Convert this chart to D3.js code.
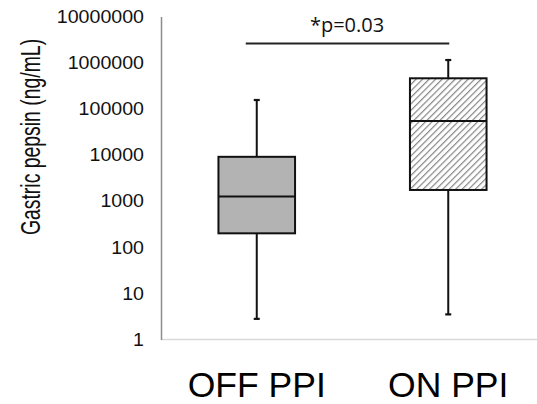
<!DOCTYPE html>
<html>
<head>
<meta charset="utf-8">
<script src="https://cdn.jsdelivr.net/npm/d3@7"></script>
<style>
  html, body { margin: 0; padding: 0; background: #fff; }
  svg { display: block; }
</style>
</head>
<body>
<svg id="chart" width="537" height="404"></svg>
<script>
// ---- data ----
const categories = ["OFF PPI", "ON PPI"];
const whiskerLow  = [2.8, 3.5];
const quartile1   = [200, 1740];
const medians     = [1250, 54400];
const quartile3   = [9100, 458000];
const whiskerHigh = [155000, 1140000];
const tickValues  = [1, 10, 100, 1000, 10000, 100000, 1000000, 10000000];
const tickLabels  = ["1", "10", "100", "1000", "10000", "100000", "1000000", "10000000"];
const yTitle = "Gastric pepsin (ng/mL)";
const sigLabel = "*p=0.03";
const sigLevel = 2600000;

// ---- layout ----
const W = 537, H = 404;
const axisX = 161, yTop = 16.5, yBottom = 339.5;
const svg = d3.select("#chart");

const y = d3.scaleLog().domain([1, 10000000]).range([yBottom, yTop]);
const x = d3.scaleBand().domain(categories).range([axisX, 544]).paddingInner(0.6).paddingOuter(0.3);

// hatch pattern
const defs = svg.append("defs");
const pat = defs.append("pattern")
  .attr("id", "hatch").attr("patternUnits", "userSpaceOnUse")
  .attr("width", 4.6).attr("height", 4.6)
  .attr("patternTransform", "rotate(45)");
pat.append("rect").attr("width", 4.6).attr("height", 4.6).attr("fill", "#fff");
pat.append("line").attr("x1", 0).attr("y1", 0).attr("x2", 0).attr("y2", 4.6)
  .attr("stroke", "#858585").attr("stroke-width", 2.4);

const fills = ["#b3b3b3", "url(#hatch)"];

// x axis baseline (light)
svg.append("line").attr("x1", axisX).attr("x2", W).attr("y1", yBottom).attr("y2", yBottom)
  .attr("stroke", "#d9d9d9").attr("stroke-width", 1.5);

// y axis
const yAxis = d3.axisLeft(y).tickValues(tickValues)
  .tickFormat((d, i) => tickLabels[i]).tickSize(0).tickPadding(17);
const gy = svg.append("g").attr("transform", `translate(${axisX},0)`).call(yAxis);
gy.select(".domain").attr("stroke", "#8c8c8c").attr("stroke-width", 1.5);
gy.selectAll("text").attr("font-family", "'Liberation Sans', Arial, sans-serif")
  .attr("font-size", 18.5).attr("fill", "#111")
  .attr("textLength", (d, i) => tickLabels[i].length * 10.9)
  .attr("lengthAdjust", "spacingAndGlyphs");

// y title (glyphs appear stretched across the text in the reference)
svg.append("text")
  .attr("transform", `translate(39.5,137) rotate(-90) scale(1,1.45)`)
  .attr("text-anchor", "middle")
  .attr("font-family", "'Liberation Sans', Arial, sans-serif")
  .attr("font-size", 19.4).attr("fill", "#111")
  .text(yTitle);

// boxes
const bw = x.bandwidth();
categories.forEach((c, i) => {
  const cx = x(c) + bw / 2;
  const g = svg.append("g");
  // whiskers
  g.append("line").attr("x1", cx).attr("x2", cx)
    .attr("y1", y(whiskerHigh[i])).attr("y2", y(quartile3[i]))
    .attr("stroke", "#111").attr("stroke-width", 2);
  g.append("line").attr("x1", cx).attr("x2", cx)
    .attr("y1", y(quartile1[i])).attr("y2", y(whiskerLow[i]))
    .attr("stroke", "#111").attr("stroke-width", 2);
  [whiskerHigh[i], whiskerLow[i]].forEach(v => {
    g.append("line").attr("x1", cx - 3).attr("x2", cx + 3)
      .attr("y1", y(v)).attr("y2", y(v))
      .attr("stroke", "#111").attr("stroke-width", 2.2);
  });
  // box
  g.append("rect").attr("x", x(c)).attr("width", bw)
    .attr("y", y(quartile3[i])).attr("height", y(quartile1[i]) - y(quartile3[i]))
    .attr("fill", fills[i]).attr("stroke", "#111").attr("stroke-width", 2);
  // median
  g.append("line").attr("x1", x(c)).attr("x2", x(c) + bw)
    .attr("y1", y(medians[i])).attr("y2", y(medians[i]))
    .attr("stroke", "#111").attr("stroke-width", 2);
  // category label
  svg.append("text").attr("x", cx).attr("y", 397)
    .attr("text-anchor", "middle")
    .attr("font-family", "'Liberation Sans', Arial, sans-serif")
    .attr("font-size", 35.5).attr("fill", "#000")
    .text(c);
});

// significance bar
const c0 = x(categories[0]) + bw / 2, c1 = x(categories[1]) + bw / 2;
svg.append("line").attr("x1", c0 - 11).attr("x2", c1 + 1)
  .attr("y1", y(sigLevel)).attr("y2", y(sigLevel))
  .attr("stroke", "#222").attr("stroke-width", 2);
svg.append("text").attr("x", 347).attr("y", 31.5)
  .attr("text-anchor", "middle")
  .attr("font-family", "'Open Sans', sans-serif")
  .attr("font-size", 20).attr("fill", "#111")
  .text(sigLabel);
</script>
</body>
</html>
